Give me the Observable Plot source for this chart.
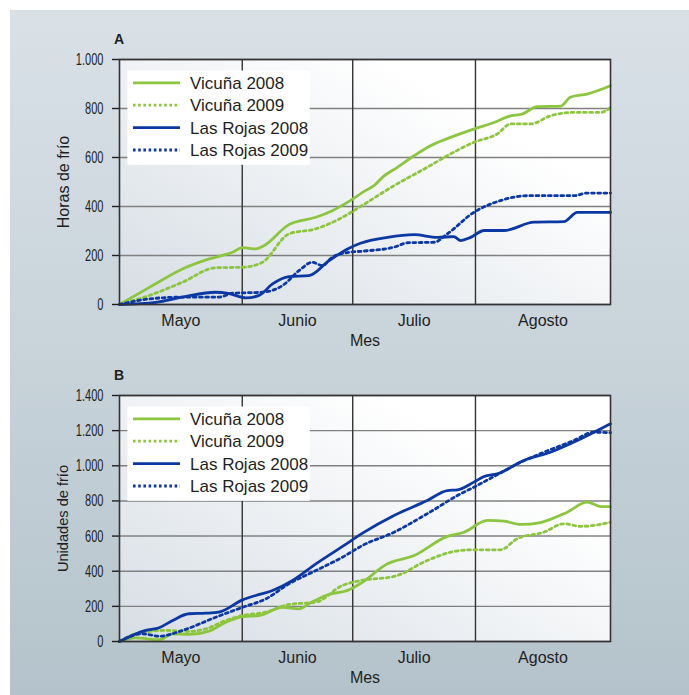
<!DOCTYPE html>
<html><head><meta charset="utf-8">
<script src="https://cdn.jsdelivr.net/npm/d3@7"></script>
<script src="https://cdn.jsdelivr.net/npm/@observablehq/plot@0.6"></script>
<style>
body{margin:0;background:#fff;}
#page{position:relative;width:689px;height:695px;overflow:hidden;font-family:"Liberation Sans",Arial,sans-serif;}
#bg{position:absolute;left:10px;top:10px;right:0;bottom:0;background:linear-gradient(180deg,#d9e1e7 0%,#c8d3da 50%,#b4c3cb 100%);}
.panel{position:absolute;left:0;}
</style></head><body>
<div id="page"><div id="bg"></div><div id="pa" class="panel" style="top:0"></div><div id="pb" class="panel" style="top:345px"></div></div>
<script>
// ---- categories / labels ----
const meses = ["Mayo", "Junio", "Julio", "Agosto"];
const mesCentros = [15, 43.5, 72, 103.5];
const mesLimites = [30, 57, 87];
const series = ["Vicuña 2008", "Vicuña 2009", "Las Rojas 2008", "Las Rojas 2009"];
const colores = ["#8cc63f", "#8cc63f", "#0b38a2", "#0b38a2"];
const punteado = [false, true, false, true];
const ticksA = [0, 200, 400, 600, 800, 1000];
const ticksB = [0, 200, 400, 600, 800, 1000, 1200, 1400];

// ---- Panel A: Horas de frío [día, valor] ----
const vicuna2008A = [[0,0],[7.3,70],[15.4,145],[21.9,186],[27.6,213],[30.1,232],[33.3,227],[35.3,240],[41.4,326],[48,356],[52,383],[56,420],[60.2,466],[62.2,485],[64.2,518],[67.9,560],[72,607],[76,648],[80.9,682],[86.6,716],[91.5,743],[95.6,770],[98.4,777],[102.1,808],[107.8,810],[110.2,846],[114.3,859],[120,893]];
const vicuna2009A = [[0,0],[7.3,37],[15.4,91],[23.5,150],[30.1,152],[34.9,172],[41.4,288],[48,309],[54.5,356],[58.9,400],[67.1,485],[75.2,560],[80.1,607],[86.6,662],[92.3,696],[95.6,737],[100.5,737],[105.3,770],[111,784],[117.6,784],[120,804]];
const rojas2008A = [[0,0],[8.9,9],[15.4,30],[23.5,50],[26.8,44],[30.9,27],[34.1,37],[37.4,84],[41.4,114],[46.3,118],[51.2,179],[56.1,230],[58.9,250],[65.5,274],[72,285],[77.7,274],[81.7,277],[83.4,261],[85.8,274],[89.1,302],[94,302],[101.3,336],[108.6,338],[111.9,376],[120,376]];
const rojas2009A = [[0,0],[7.3,23],[15.4,30],[24.3,30],[27.6,46],[34.9,50],[39.8,77],[44,140],[47.1,172],[49.6,159],[52,193],[56.1,213],[58.9,217],[67.1,234],[70.4,252],[76.9,254],[80.1,288],[86.6,376],[93.1,424],[99.7,444],[111,444],[114.3,455],[120,455]];

// ---- Panel B: Unidades de frío [día, valor] ----
const vicuna2008B = [[0,0],[4,21],[9.7,10],[13,44],[17,40],[21.9,59],[26,110],[30.1,142],[34.1,148],[39.8,195],[43.9,186],[46.3,215],[50.4,262],[56.1,294],[58.9,330],[65.5,442],[72,489],[80.1,598],[84.2,622],[89.9,689],[94,685],[98,666],[102.9,677],[109.4,736],[114.3,793],[117.6,768],[120,768]];
const vicuna2009B = [[0,0],[4,44],[11.3,63],[17,57],[21.1,72],[26,120],[30.1,148],[35.8,167],[41.4,211],[48,224],[54.5,319],[58.9,347],[67.1,370],[75.2,461],[80.9,508],[85.8,522],[93.1,522],[97.2,585],[103.7,622],[108.6,670],[112.7,655],[120,679]];
const rojas2008B = [[0,0],[6.4,63],[9.7,78],[13,120],[17,158],[21.1,161],[24.3,167],[30.1,237],[33.3,262],[37.4,290],[42.3,347],[48,442],[54.5,541],[59.5,618],[67.1,717],[75.2,802],[80.1,859],[82.6,863],[86.6,907],[89.1,939],[92.3,954],[98.8,1030],[105.3,1077],[111.9,1144],[120,1239]];
const rojas2009B = [[0,0],[5.6,44],[9.7,30],[15.4,63],[23.5,138],[30.1,195],[35.8,243],[41.4,328],[48,404],[54.5,480],[59.5,548],[67.1,622],[75.2,727],[83.4,841],[86.6,878],[91.5,939],[98,1020],[103.7,1077],[111,1144],[115.9,1191],[120,1188]];

const fmt = d3.formatLocale({decimal: ",", thousands: ".", grouping: [3], currency: ["", ""]}).format(",");

function panel(opts) {
  const {letter, ylabel, ylabelSize, yMax, ticks, data, height, marginTop, marginBottom, target} = opts;
  const ml = 119, mr = 79;
  const lineMarks = data.map((pts, i) => Plot.line(pts.map(([x, y]) => ({serie: series[i], x, y})), {
    x: "x", y: "y", stroke: colores[i], strokeWidth: 2.8,
    strokeDasharray: punteado[i] ? "2.8,3.4" : null, curve: "monotone-x"
  }));
  const svg = Plot.plot({
    width: 689, height, marginLeft: ml, marginRight: mr, marginTop, marginBottom,
    style: {background: "transparent", fontFamily: "'Liberation Sans', Arial, sans-serif", fontSize: "16px", color: "#231f20", overflow: "visible"},
    x: {domain: [0, 120], axis: null},
    y: {domain: [0, yMax], axis: null},
    marks: [
      Plot.frame({fill: `url(#grad${letter})`}),
      Plot.gridY(ticks, {stroke: "#808080", strokeOpacity: 1, strokeWidth: 1.4}),
      Plot.ruleX(mesLimites, {stroke: "#333", strokeWidth: 1.4}),
      ...lineMarks,
      Plot.frame({stroke: "#333", strokeWidth: 1.6}),
      Plot.axisY({ticks, tickSize: 7, tickPadding: 9, tickFormat: fmt, label: null, fontSize: 17, strokeWidth: 1.4}),
      Plot.text(meses, {x: mesCentros, text: d => d, frameAnchor: "bottom", dy: 16, lineAnchor: "middle", fontSize: 16}),
      Plot.text(["Mes"], {text: d => d, frameAnchor: "bottom", dy: 36, lineAnchor: "middle", fontSize: 16}),
      Plot.text([ylabel], {text: d => d, frameAnchor: "left", rotate: -90, dx: -56, lineAnchor: "middle", textAnchor: "middle", fontSize: ylabelSize}),
      Plot.text([letter], {text: d => d, frameAnchor: "top-left", textAnchor: "start", lineAnchor: "middle", dx: -5.6, dy: -19.5, fontSize: 14, fontWeight: "bold"})
    ]
  });
  // plot-area gradient
  const defs = d3.create("svg:defs");
  const gr = defs.append("linearGradient").attr("id", "grad" + letter)
    .attr("x1", 0).attr("y1", 1).attr("x2", 0.8).attr("y2", 0.3);
  gr.append("stop").attr("offset", 0).attr("stop-color", "#d6dde4");
  gr.append("stop").attr("offset", 0.55).attr("stop-color", "#edf0f3");
  gr.append("stop").attr("offset", 1).attr("stop-color", "#ffffff");
  svg.insertBefore(defs.node(), svg.firstChild);

  // legend
  const top = marginTop + 11.5;
  const lg = d3.select(svg).append("g").attr("class", "legend").attr("text-anchor", "start");
  lg.append("rect").attr("x", 127.4).attr("y", top).attr("width", 182.4).attr("height", 94.3).attr("fill", "#fff");
  series.forEach((s, i) => {
    const y = top + 12.3 + i * 22.4;
    lg.append("line").attr("x1", 133).attr("x2", 180).attr("y1", y).attr("y2", y)
      .attr("stroke", colores[i]).attr("stroke-width", 2.8)
      .attr("stroke-dasharray", punteado[i] ? "2.6,2.6" : null);
    lg.append("text").attr("x", 190).attr("y", y).attr("dy", "0.36em")
      .attr("text-anchor", "start")
      .attr("font-size", 17).attr("fill", "#231f20").text(s);
  });
  document.getElementById(target).appendChild(svg);
  svg.querySelectorAll('g[aria-label="y-axis tick label"] text').forEach(t => {
    const L = t.getComputedTextLength();
    t.setAttribute("textLength", (L * 0.65).toFixed(2));
    t.setAttribute("lengthAdjust", "spacingAndGlyphs");
  });
}

panel({letter: "A", ylabel: "Horas de frío", ylabelSize: 16, yMax: 1000, ticks: ticksA,
  data: [vicuna2008A, vicuna2009A, rojas2008A, rojas2009A], height: 345, marginTop: 59, marginBottom: 41, target: "pa"});
panel({letter: "B", ylabel: "Unidades de frío", ylabelSize: 14.6, yMax: 1400, ticks: ticksB,
  data: [vicuna2008B, vicuna2009B, rojas2008B, rojas2009B], height: 350, marginTop: 50, marginBottom: 54, target: "pb"});
</script>
</body></html>
